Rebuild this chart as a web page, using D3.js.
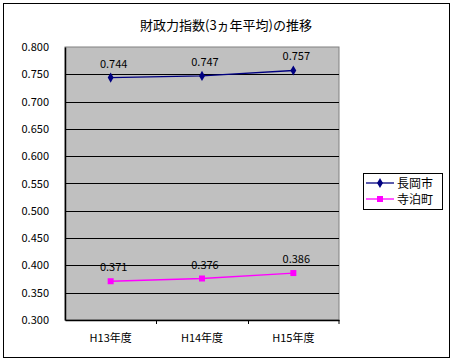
<!DOCTYPE html>
<html><head><meta charset="utf-8">
<script src="https://cdn.jsdelivr.net/npm/d3@7"></script>
<style>body{margin:0;background:#fff}svg{display:block}text{font-family:"Noto Sans CJK JP","DejaVu Sans",sans-serif}</style>
</head><body><svg id="c" width="453" height="362"></svg>
<script>
const categories = ["H13年度", "H14年度", "H15年度"];
const seriesNames = ["長岡市", "寺泊町"];
const nagaoka = [0.744, 0.747, 0.757];
const teradomari = [0.371, 0.376, 0.386];
const yTicks = [0.300, 0.350, 0.400, 0.450, 0.500, 0.550, 0.600, 0.650, 0.700, 0.750, 0.800];
const title = "財政力指数(3ヵ年平均)の推移";

const svg = d3.select("#c");
const L = 65, R = 339, T = 47, B = 320;
svg.append("rect").attr("x", 3.5).attr("y", 3.5).attr("width", 446).attr("height", 354).attr("fill", "#fff").attr("stroke", "#000");
svg.append("text").attr("x", 226).attr("y", 30).attr("text-anchor", "middle").attr("font-size", 13).text(title);

const x = d3.scaleBand().domain(categories).range([L, R]);
const y = d3.scaleLinear().domain([0.3, 0.8]).range([B, T]);

svg.append("rect").attr("x", L).attr("y", T).attr("width", R - L).attr("height", B - T).attr("fill", "#C0C0C0").attr("stroke", "#808080");
svg.append("g").selectAll("line").data(yTicks.slice(1, -1)).join("line")
  .attr("x1", L).attr("x2", R).attr("y1", d => Math.round(y(d)) + 0.5).attr("y2", d => Math.round(y(d)) + 0.5).attr("stroke", "#000");

const ya = svg.append("g").attr("transform", `translate(${L},0)`)
  .call(d3.axisLeft(y).tickValues(yTicks).tickFormat(d3.format(".3f")).tickSize(0).tickPadding(16));
ya.select(".domain").attr("stroke", "#000").attr("stroke-width", 1.5);
ya.selectAll("text").attr("font-size", 11).attr("font-family", "Arial, 'Liberation Sans', sans-serif").attr("fill", "#000");

const xa = svg.append("g").attr("transform", `translate(0,${B})`)
  .call(d3.axisBottom(x).tickSize(0).tickPadding(14));
xa.select(".domain").attr("stroke", "#000").attr("stroke-width", 1.5);
xa.selectAll("text").attr("font-size", 11).attr("fill", "#000");
svg.append("g").selectAll("line").data([1, 2, 3]).join("line")
  .attr("x1", d => d < 3 ? Math.round(x(categories[d])) + 0.5 : R).attr("x2", d => d < 3 ? Math.round(x(categories[d])) + 0.5 : R)
  .attr("y1", B).attr("y2", B + 4).attr("stroke", "#000");

const cx = c => x(c) + x.bandwidth() / 2;
const series = [
  { name: seriesNames[0], vals: nagaoka, color: "#000080", shape: d3.symbolDiamond, size: 30 },
  { name: seriesNames[1], vals: teradomari, color: "#FF00FF", shape: d3.symbolSquare, size: 36 }
];
series.forEach(s => {
  const line = d3.line().x((d, i) => cx(categories[i])).y(d => y(d));
  svg.append("path").datum(s.vals).attr("d", line).attr("fill", "none").attr("stroke", s.color).attr("stroke-width", 1.3);
  svg.append("g").selectAll("path").data(s.vals).join("path")
    .attr("d", d3.symbol().type(s.shape).size(s.size))
    .attr("transform", (d, i) => `translate(${cx(categories[i])},${y(d)})`).attr("fill", s.color);
  svg.append("g").selectAll("text").data(s.vals).join("text")
    .attr("x", (d, i) => cx(categories[i]) + 3).attr("y", d => y(d) - 10)
    .attr("text-anchor", "middle").attr("font-size", 11).attr("font-family", "Arial, 'Liberation Sans', sans-serif")
    .text(d => d3.format(".3f")(d));
});

const lg = svg.append("g");
lg.append("rect").attr("x", 363.5).attr("y", 173.5).attr("width", 79).attr("height", 36).attr("fill", "#fff").attr("stroke", "#000");
series.forEach((s, i) => {
  const yy = 183 + i * 16;
  lg.append("line").attr("x1", 366).attr("x2", 394).attr("y1", yy).attr("y2", yy).attr("stroke", s.color).attr("stroke-width", 1.3);
  lg.append("path").attr("d", d3.symbol().type(s.shape).size(s.size)).attr("transform", `translate(380,${yy})`).attr("fill", s.color);
  lg.append("text").attr("x", 397).attr("y", yy + 4.5).attr("font-size", 12).text(s.name);
});
</script></body></html>
